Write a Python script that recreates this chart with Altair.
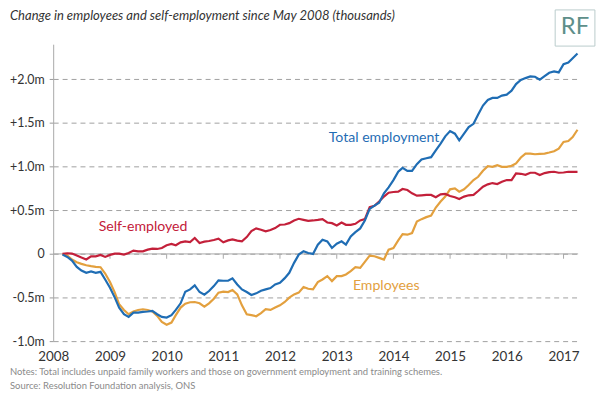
import altair as alt
import pandas as pd

# Monthly observations, Mar 2008 .. Apr 2017 (change since May 2008, thousands)
start_month = "2008-03-01"
n_months = 110

self_employed = [
    0, 8, 4, -19, -42, -64, -27, -27, -11, -34,
    -11, 4, 4, -8, 11, 38, 30, 30, 49, 61, 57, 68,
    99, 114, 99, 133, 144, 136, 182, 125, 140, 148, 159, 174,
    133, 155, 167, 152, 144, 193, 262, 292, 277, 258, 273, 296,
    334, 337, 352, 383, 402, 390, 379, 383, 390, 398, 360, 352,
    326, 360, 333, 333, 345, 383, 398, 534, 550, 599, 656, 701,
    709, 713, 743, 731, 694, 667, 671, 675, 675, 648, 682, 686,
    663, 648, 629, 656, 671, 675, 720, 769, 796, 811, 800, 826,
    845, 845, 921, 917, 906, 929, 929, 902, 925, 936, 940, 929,
    932, 940, 940, 940,
]

total_employment = [
    -8, -34, -76, -148, -190, -216, -201, -216, -205, -292,
    -387, -500, -614, -690, -720, -671, -671, -663, -659, -652, -690, -720,
    -728, -701, -641, -565, -432, -406, -360, -436, -466, -424, -368, -303,
    -307, -307, -280, -349, -406, -436, -470, -451, -421, -406, -390, -349,
    -330, -277, -216, -102, -8, 30, 11, 0, 106, 163, 144, 68,
    117, 144, 106, 201, 250, 292, 383, 515, 553, 587, 694, 762,
    845, 940, 985, 951, 951, 1027, 1080, 1095, 1107, 1186, 1262, 1345,
    1406, 1376, 1300, 1376, 1452, 1489, 1596, 1698, 1762, 1785, 1785, 1812,
    1823, 1868, 1944, 1990, 2012, 2031, 2028, 1994, 2035, 2073, 2088, 2077,
    2172, 2191, 2240, 2293,
]

employees = [
    -4, -19, -64, -95, -114, -129, -140, -148, -152, -224,
    -322, -443, -576, -641, -690, -659, -641, -633, -641, -659, -709, -777,
    -811, -785, -701, -614, -569, -553, -550, -565, -603, -565, -512, -443,
    -432, -436, -413, -463, -588, -690, -701, -713, -678, -633, -641, -614,
    -588, -550, -500, -463, -443, -379, -398, -406, -322, -292, -254, -311,
    -254, -254, -235, -197, -152, -159, -91, -19, -27, -45, -64, 49,
    68, 155, 227, 220, 239, 371, 398, 421, 440, 531, 599, 656,
    739, 750, 713, 739, 788, 845, 883, 951, 1004, 997, 1016, 997,
    997, 1008, 1035, 1103, 1148, 1148, 1141, 1145, 1148, 1160, 1175, 1205,
    1281, 1292, 1338, 1421,
]

series_names = ["Employees", "Self-employed", "Total employment"]
series_colors = ["#e3a03e", "#c3203a", "#1f6db4"]
label_colors = ["#8b7355", "#c43a4e", "#3a86c6"]
label_dates = ["2013-04-15", "2008-10-20", "2012-11-10"]
label_values = [-372, 310, 1321]

years = list(range(2008, 2018))
y_ticks = [-1000, -500, 0, 500, 1000, 1500, 2000]

title_text = "Change in employees and self-employment since May 2008 (thousands)"
notes_text = "Notes: Total includes unpaid family workers and those on government employment and training schemes."
source_text = "Source:  Resolution Foundation analysis, ONS"

FONT = "Lato"

dates = pd.date_range(start_month, periods=n_months, freq="MS")
frames = []
for name, vals in zip(series_names, [employees, self_employed, total_employment]):
    frames.append(pd.DataFrame({"date": dates, "value": vals, "series": name}))
df = pd.concat(frames, ignore_index=True)

W, H = 528.6, 299.2

x_scale = alt.Scale(domain=[alt.DateTime(year=2008, month=1, date=1),
                            alt.DateTime(year=2017, month=4, date=5)])
y_scale = alt.Scale(domain=[-1000, 2400], nice=False)

label_expr = ("datum.value == 0 ? '0' : (datum.value < 0 ? '-' : '+') + "
              "format(abs(datum.value) / 1000, '.1f') + 'm'")

lines = alt.Chart(df).mark_line(strokeWidth=2.2, interpolate="linear").encode(
    x=alt.X("date:T", scale=x_scale, title=None,
            axis=alt.Axis(values=[alt.DateTime(year=y, month=1, date=1) for y in years],
                          format="%Y", domain=False, ticks=False, tickSize=0,
                          labelPadding=8, labelFontSize=13.5, labelColor="#333333",
                          labelFont=FONT, grid=False, labelFlush=False)),
    y=alt.Y("value:Q", scale=y_scale, title=None,
            axis=alt.Axis(values=y_ticks, labelExpr=label_expr, labelFont=FONT,
                          labelFontSize=12.5, labelColor="#333333", labelPadding=5,
                          tickSize=4, tickColor="#9a9a9a", domainColor="#a8a8a8",
                          grid=True, gridDash=[5, 4], gridColor="#a0a0a0",
                          gridWidth=1)),
    color=alt.Color("series:N", scale=alt.Scale(domain=series_names, range=series_colors),
                    legend=None),
    order=alt.Order("series:N"),
)

zero_df = pd.DataFrame({"v": [0]})
zero_line = alt.Chart(zero_df).mark_rule(color="#a8a8a8", strokeWidth=1).encode(
    y=alt.Y("v:Q", scale=y_scale), x=alt.value(0), x2=alt.value(W))

tick_df = pd.DataFrame({"date": pd.to_datetime([f"{y}-01-01" for y in years[1:]])})
year_ticks = alt.Chart(tick_df).mark_rule(color="#a8a8a8", strokeWidth=1).encode(
    x=alt.X("date:T", scale=x_scale), y=alt.datum(0), y2=alt.datum(-55))

lab_df = pd.DataFrame({"date": pd.to_datetime(label_dates), "value": label_values,
                       "series": series_names})
labels = alt.Chart(lab_df).mark_text(align="left", baseline="middle", font=FONT,
                                     fontSize=14.2).encode(
    x=alt.X("date:T", scale=x_scale), y=alt.Y("value:Q", scale=y_scale),
    text="series:N",
    color=alt.Color("series:N", scale=alt.Scale(domain=series_names, range=label_colors),
                    legend=None),
)

one = pd.DataFrame({"t": [title_text], "n": [notes_text], "s": [source_text], "rf": ["RF"]})
title = alt.Chart(one).mark_text(align="left", baseline="alphabetic", font=FONT,
                                 fontSize=13.1, fontStyle="italic", color="#333333").encode(
    x=alt.value(-43.5), y=alt.value(-24), text="t:N")
notes = alt.Chart(one).mark_text(align="left", baseline="middle", font=FONT,
                                 fontSize=9.5, color="#8a8a8a").encode(
    x=alt.value(-43.5), y=alt.value(329.9), text="n:N")
source = alt.Chart(one).mark_text(align="left", baseline="middle", font=FONT,
                                  fontSize=9.5, color="#8a8a8a").encode(
    x=alt.value(-43.5), y=alt.value(343.9), text="s:N")
rf_box = alt.Chart(one).mark_rect(fill="white", stroke="#b9cccc", strokeWidth=1).encode(
    x=alt.value(505.5), x2=alt.value(545.5), y=alt.value(-34.5), y2=alt.value(1.9))
rf_text = alt.Chart(one).mark_text(align="center", baseline="middle", font=FONT,
                                   fontSize=24, color="#5e8f8a").encode(
    x=alt.value(525.5), y=alt.value(-17), text="rf:N")

chart = alt.layer(
    zero_line, year_ticks, lines, labels, title, notes, source, rf_box, rf_text
).properties(
    width=W, height=H,
    autosize=alt.AutoSizeParams(type="none"),
    padding={"left": 45.5, "top": 35.1, "right": 18, "bottom": 52},
).configure_view(stroke=None)

chart.save("out.html", embed_options={"renderer": "svg", "actions": False})
